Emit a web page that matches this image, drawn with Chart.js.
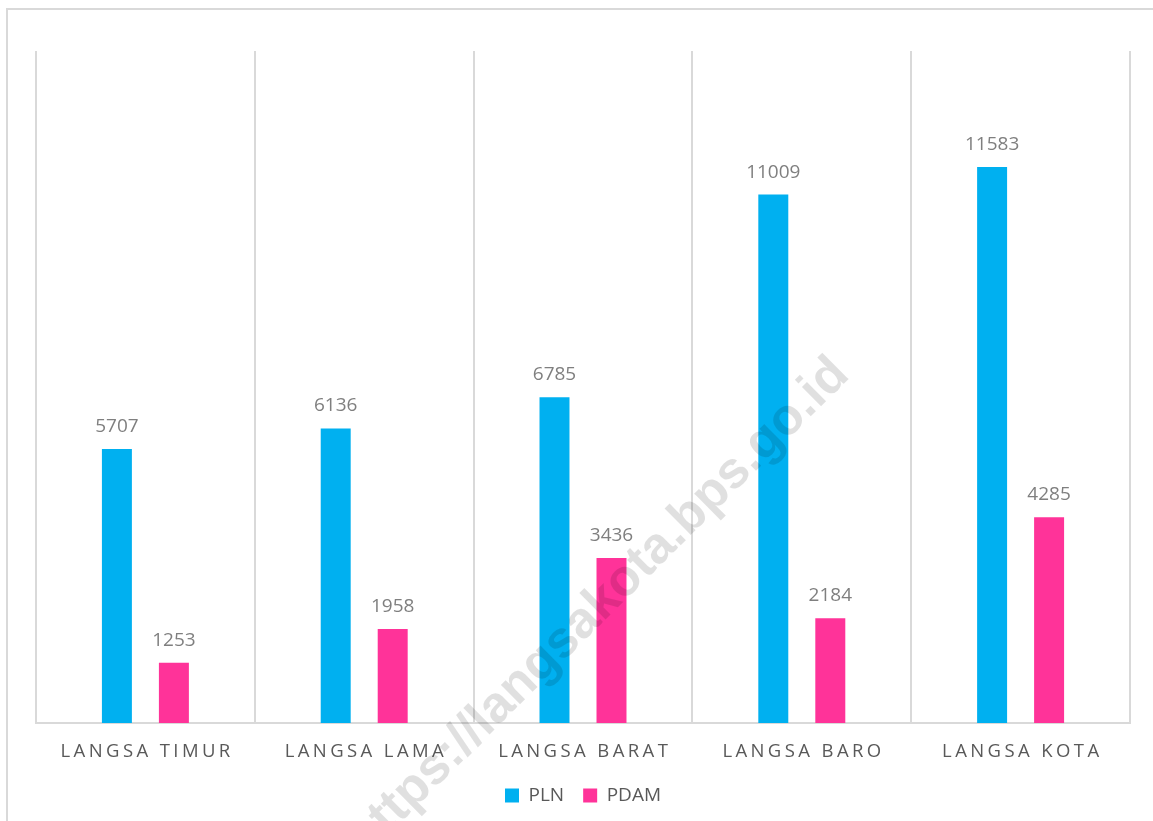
<!DOCTYPE html>
<html><head><meta charset="utf-8">
<script src="https://cdn.jsdelivr.net/npm/chart.js@4/dist/chart.umd.min.js"></script>
<style>html,body{margin:0;padding:0;background:#fff;overflow:hidden}</style>
</head><body>
<canvas id="c" width="1153" height="821" style="display:block;width:1153px;height:821px"></canvas>
<script>
const categories = ['LANGSA TIMUR', 'LANGSA LAMA', 'LANGSA BARAT', 'LANGSA BARO', 'LANGSA KOTA'];
const seriesNames = ['PLN', 'PDAM'];
const plnValues = [5707, 6136, 6785, 11009, 11583];
const pdamValues = [1253, 1958, 3436, 2184, 4285];
const yMin = 0;
const yMax = 14000;
const watermarkText = 'https://langsakota.bps.go.id';

const FONT = '"Open Sans", "Noto Sans", sans-serif';
const LETTER_SPACING = 3.4;

const framePlugin = {
  id: 'frame',
  beforeDraw(chart) {
    const ctx = chart.ctx;
    ctx.save();
    ctx.fillStyle = '#fff';
    ctx.fillRect(0, 0, chart.width, chart.height);
    ctx.fillStyle = '#d9d9d9';
    ctx.fillRect(6, 8, chart.width, 2);
    ctx.fillRect(6, 8, 2, chart.height);
    ctx.restore();
  }
};

const categoryLabelPlugin = {
  id: 'categoryLabels',
  afterDraw(chart) {
    const ctx = chart.ctx;
    const xs = chart.scales.x;
    ctx.save();
    ctx.font = '18.5px ' + FONT;
    ctx.fillStyle = '#595959';
    ctx.textAlign = 'center';
    ctx.textBaseline = 'alphabetic';
    ctx.letterSpacing = LETTER_SPACING + 'px';
    chart.data.labels.forEach((lab, i) => {
      const x = xs.getPixelForValue(i);
      ctx.fillText(lab, x + LETTER_SPACING / 2, xs.top + 34);
    });
    ctx.restore();
  }
};

const valueLabelPlugin = {
  id: 'valueLabels',
  afterDatasetsDraw(chart) {
    const ctx = chart.ctx;
    ctx.save();
    ctx.font = '19px ' + FONT;
    ctx.fillStyle = '#7f7f7f';
    ctx.textAlign = 'center';
    ctx.textBaseline = 'alphabetic';
    chart.data.datasets.forEach((ds, di) => {
      const meta = chart.getDatasetMeta(di);
      meta.data.forEach((bar, i) => {
        ctx.fillText(String(ds.data[i]), bar.x, bar.y - 17);
      });
    });
    ctx.restore();
  }
};

const watermarkPlugin = {
  id: 'watermark',
  afterDraw(chart) {
    const ctx = chart.ctx;
    ctx.save();
    ctx.translate(598, 607);
    ctx.rotate(-44.7 * Math.PI / 180);
    ctx.font = 'bold 51.5px "Liberation Sans", Arial, sans-serif';
    ctx.fillStyle = 'rgba(0,0,0,0.12)';
    ctx.textAlign = 'center';
    ctx.textBaseline = 'middle';
    ctx.fillText(watermarkText, 0, 0);
    ctx.restore();
  }
};

new Chart(document.getElementById('c'), {
  type: 'bar',
  data: {
    labels: categories,
    datasets: [
      { label: seriesNames[0], data: plnValues, backgroundColor: '#00B0F0', borderWidth: 0 },
      { label: seriesNames[1], data: pdamValues, backgroundColor: '#FF3399', borderWidth: 0 }
    ]
  },
  options: {
    responsive: false,
    animation: false,
    devicePixelRatio: 1,
    layout: { padding: { left: 36, right: 23, top: 51, bottom: 6 } },
    datasets: { bar: { categoryPercentage: 0.521, barPercentage: 0.526 } },
    scales: {
      x: {
        grid: { display: true, color: '#d9d9d9', lineWidth: 2, drawTicks: false, offset: true },
        border: { display: true, color: '#d9d9d9', width: 2 },
        ticks: { display: false },
        afterFit(scale) { scale.height = 44; }
      },
      y: {
        display: false,
        min: yMin,
        max: yMax
      }
    },
    plugins: {
      legend: {
        position: 'bottom',
        labels: {
          boxWidth: 14, boxHeight: 14, padding: 19,
          color: '#595959',
          font: { size: 19, family: FONT }
        }
      },
      tooltip: { enabled: false }
    }
  },
  plugins: [framePlugin, categoryLabelPlugin, valueLabelPlugin, watermarkPlugin]
});
</script>
</body></html>
